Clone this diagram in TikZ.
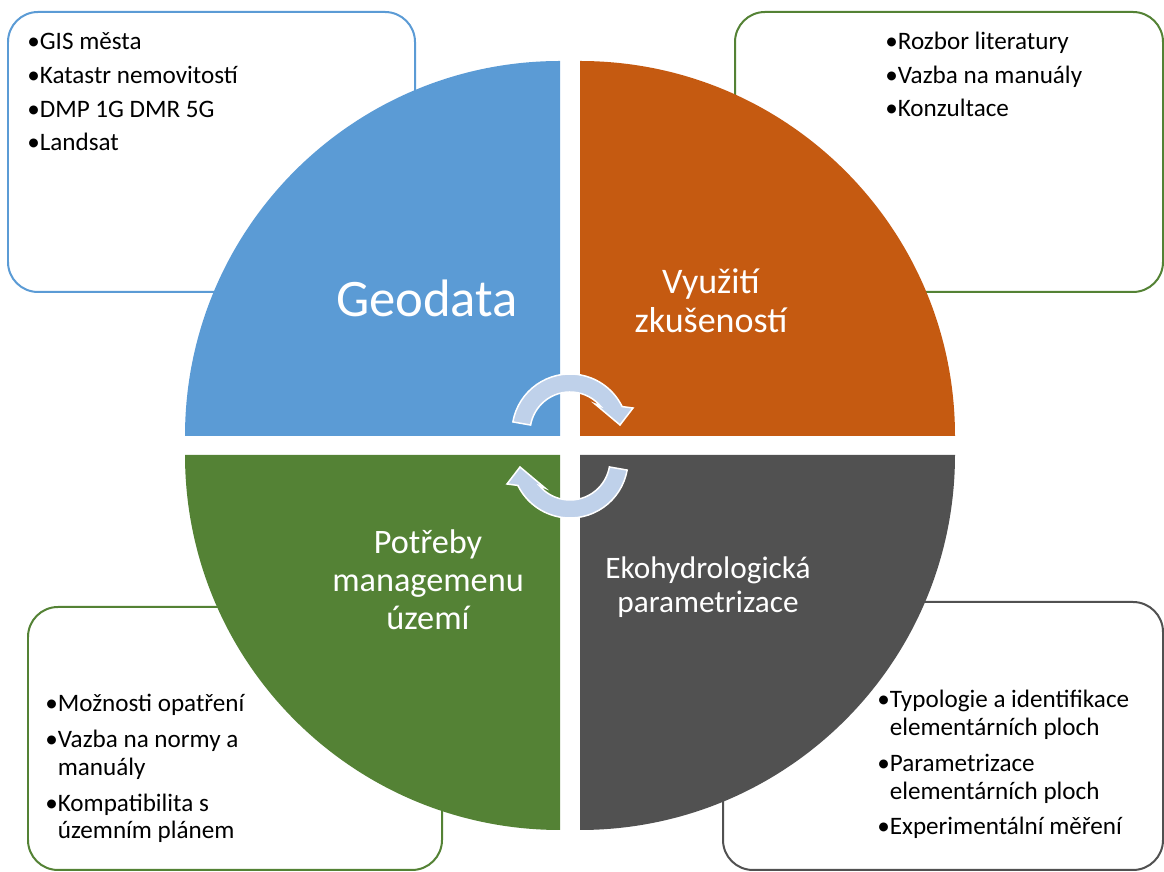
\documentclass[tikz,border=0pt]{standalone}
\usepackage{fontspec}
\setmainfont{Carlito}
\definecolor{geoblue}{HTML}{5B9BD5}
\definecolor{expo}{HTML}{C55A11}
\definecolor{mangreen}{HTML}{548235}
\definecolor{ekogray}{HTML}{515151}
\definecolor{turnblue}{HTML}{BFD1EA}
\begin{document}
\begin{tikzpicture}[
        x=0.02cm, y=0.02cm,
        listbox/.style={rounded corners=0.6cm, line width=0.04cm, fill=white},
        listtext/.style={anchor=base west, align=left, inner sep=0pt, font=\fontsize{14.3}{15.9}\selectfont},
        hubtext/.style={anchor=base, align=center, inner sep=0pt, text=white},
        turn/.style={fill=turnblue, draw=white, line width=0.03cm}
    ]
        \useasboundingbox (0,0) rectangle (1164,872);

        % boxes behind the circle
        \draw[listbox, draw=geoblue] (8,580) rectangle (415,860);
        \draw[listbox, draw=mangreen] (735,580) rectangle (1163,860);
        \draw[listbox, draw=mangreen] (28,2) rectangle (442,265);
        \draw[listbox, draw=ekogray] (723,2) rectangle (1163,270);

        % four quarters
        \fill[geoblue] (560,436) -- ++(180:375) arc[start angle=180, end angle=90, radius=375] -- cycle;
        \fill[expo] (580,436) -- ++(90:375) arc[start angle=90, end angle=0, radius=375] -- cycle;
        \fill[ekogray] (580,417) -- ++(0:375) arc[start angle=0, end angle=-90, radius=375] -- cycle;
        \fill[mangreen] (560,417) -- ++(-90:375) arc[start angle=-90, end angle=-180, radius=375] -- cycle;

        % base = last line
        \node[hubtext, font=\fontsize{30}{34}\selectfont] (geo) at (427,555) {Geodata};
        \node[hubtext, font=\fontsize{20.5}{22.7}\selectfont] (zkus) at (711,539) {Využití\\zkušeností};
        \node[hubtext, font=\fontsize{19.5}{21.9}\selectfont] (mng) at (428,242) {Potřeby\\managemenu\\území};
        \node[hubtext, font=\fontsize{17.8}{19.9}\selectfont] (eko) at (708,259) {Ekohydrologická\\parametrizace};

        % lists
        \node[listtext] (geolist) at (27,721) {•GIS města\\[3.4pt]•Katastr nemovitostí\\[3.4pt]•DMP 1G DMR 5G\\[3.4pt]•Landsat};
        \node[listtext] (zkuslist) at (885,755) {•Rozbor literatury\\[3.4pt]•Vazba na manuály\\[3.4pt]•Konzultace};
        \node[listtext] (mnglist) at (45,33) {•Možnosti opatření\\[4.5pt]•Vazba na normy a\\\phantom{•}manuály\\[4.5pt]•Kompatibilita s\\\phantom{•}územním plánem};
        \node[listtext] (ekolist) at (877,37) {•Typologie a identifikace\\\phantom{•}elementárních ploch\\[4.5pt]•Parametrizace\\\phantom{•}elementárních ploch\\[4.5pt]•Experimentální měření};

        % cycle arrows in the middle
        \begin{scope}[shift={(570,440)}]
            \draw[turn] (170:58) arc[start angle=170, end angle=26, radius=58] -- (63,24) -- (50,7) -- (25,28) -- (40:40) arc[start angle=40, end angle=170, radius=40] -- cycle;
        \end{scope}
        \begin{scope}[shift={(570,412)}, rotate=180]
            \draw[turn] (170:58) arc[start angle=170, end angle=26, radius=58] -- (63,24) -- (50,7) -- (25,28) -- (40:40) arc[start angle=40, end angle=170, radius=40] -- cycle;
        \end{scope}
    \end{tikzpicture}
\end{document}
